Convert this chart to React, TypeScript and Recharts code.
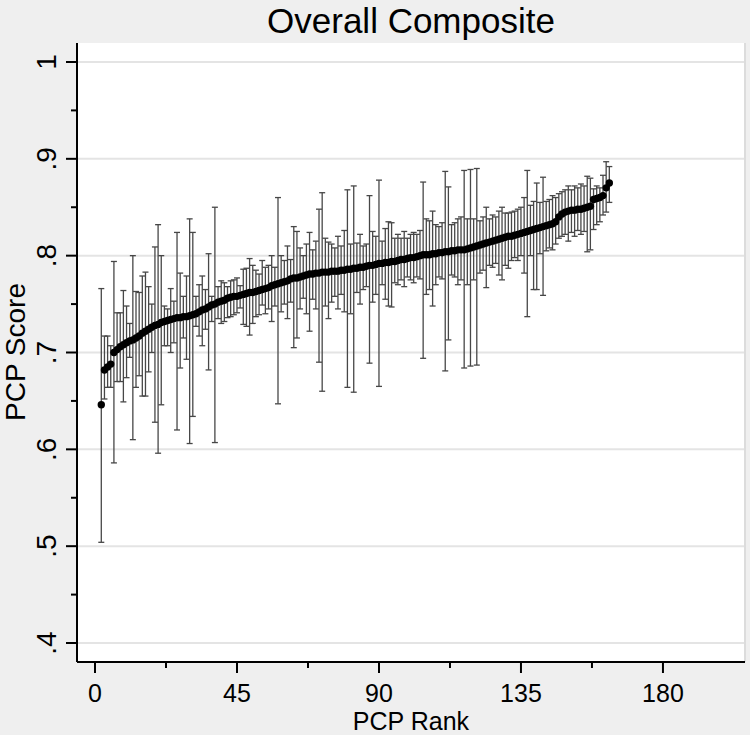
import React from "react";
import {
  CartesianGrid,
  ComposedChart,
  ErrorBar,
  ReferenceLine,
  Scatter,
  XAxis,
  YAxis,
} from "recharts";

// PCP ranks start at 2 and step by one
const firstRank = 2;

// point estimates, in rank order
const scores = [
  0.646, 0.682, 0.685, 0.688, 0.7, 0.703, 0.706, 0.708, 0.71, 0.712, 0.713, 0.715, 0.717,
  0.72, 0.722, 0.724, 0.726, 0.728, 0.729, 0.731, 0.732, 0.733, 0.734, 0.735, 0.736,
  0.736, 0.737, 0.737, 0.738, 0.739, 0.74, 0.742, 0.744, 0.745, 0.747, 0.749, 0.75, 0.752,
  0.753, 0.754, 0.756, 0.757, 0.758, 0.758, 0.759, 0.76, 0.761, 0.762, 0.762, 0.763, 0.764, 0.765,
  0.766, 0.767, 0.769, 0.77, 0.771, 0.772, 0.773, 0.774, 0.776, 0.777, 0.777, 0.778, 0.779,
  0.78, 0.781, 0.781, 0.782, 0.782, 0.783, 0.783, 0.783, 0.784, 0.784, 0.784, 0.785, 0.785, 0.786,
  0.786, 0.787, 0.787, 0.788, 0.788, 0.789, 0.79, 0.79, 0.791, 0.792, 0.792, 0.793, 0.793,
  0.794, 0.794, 0.795, 0.796, 0.796, 0.797, 0.798, 0.798, 0.799, 0.8, 0.801, 0.801, 0.801, 0.802,
  0.802, 0.803, 0.803, 0.804, 0.804, 0.805, 0.805, 0.806, 0.806, 0.806, 0.807, 0.808, 0.809,
  0.81, 0.811, 0.812, 0.813, 0.814, 0.815, 0.816, 0.817, 0.818, 0.819, 0.82, 0.82, 0.821,
  0.822, 0.823, 0.824, 0.825, 0.826, 0.827, 0.828, 0.829, 0.83, 0.831, 0.832, 0.833, 0.835,
  0.84, 0.843, 0.845, 0.846, 0.847, 0.847, 0.848, 0.848, 0.849, 0.85, 0.851, 0.858, 0.859,
  0.86, 0.862, 0.87, 0.875,
];

// lower ends of the intervals
const lower = [
  0.504, 0.652, 0.664, 0.664, 0.586, 0.67, 0.67, 0.649, 0.674, 0.695, 0.61, 0.664, 0.676,
  0.655, 0.655, 0.68, 0.7, 0.628, 0.596, 0.646, 0.707, 0.707, 0.7, 0.71, 0.62,
  0.684, 0.715, 0.693, 0.606, 0.634, 0.727, 0.717, 0.707, 0.724, 0.682, 0.732, 0.607, 0.735,
  0.73, 0.732, 0.736, 0.737, 0.739, 0.741, 0.746, 0.729, 0.727, 0.718, 0.73, 0.737, 0.739, 0.749,
  0.74, 0.745, 0.732, 0.748, 0.647, 0.742, 0.75, 0.735, 0.752, 0.705, 0.715, 0.745, 0.756,
  0.74, 0.722, 0.755, 0.745, 0.69, 0.66, 0.748, 0.735, 0.752, 0.758, 0.745, 0.76, 0.742, 0.664,
  0.74, 0.659, 0.762, 0.75, 0.765, 0.768, 0.689, 0.752, 0.76, 0.665, 0.77, 0.755, 0.748,
  0.747, 0.772, 0.77, 0.775, 0.768, 0.778, 0.775, 0.772, 0.778, 0.776, 0.694, 0.76, 0.765, 0.748,
  0.77, 0.778, 0.776, 0.681, 0.713, 0.78, 0.778, 0.77, 0.775, 0.684, 0.77, 0.686, 0.775,
  0.687, 0.782, 0.785, 0.767, 0.79, 0.788, 0.792, 0.78, 0.775, 0.79, 0.787, 0.795, 0.798,
  0.795, 0.8, 0.782, 0.737, 0.8, 0.765, 0.765, 0.802, 0.759, 0.805, 0.808, 0.806, 0.812,
  0.818, 0.82, 0.822, 0.815, 0.824, 0.82, 0.826, 0.822, 0.825, 0.804, 0.806, 0.827, 0.832,
  0.835, 0.842, 0.845, 0.855,
];

// upper ends of the intervals
const upper = [
  0.766, 0.717, 0.717, 0.707, 0.794, 0.741, 0.741, 0.764, 0.748, 0.73, 0.8, 0.763, 0.762,
  0.779, 0.783, 0.768, 0.75, 0.809, 0.832, 0.8, 0.748, 0.745, 0.766, 0.753, 0.824,
  0.782, 0.758, 0.779, 0.838, 0.824, 0.758, 0.77, 0.779, 0.765, 0.802, 0.758, 0.85, 0.768,
  0.774, 0.772, 0.768, 0.774, 0.775, 0.777, 0.769, 0.786, 0.787, 0.797, 0.79, 0.785, 0.781, 0.795,
  0.788, 0.79, 0.8, 0.788, 0.86, 0.8, 0.795, 0.81, 0.796, 0.83, 0.825, 0.808, 0.8,
  0.812, 0.824, 0.806, 0.815, 0.848, 0.865, 0.818, 0.814, 0.812, 0.808, 0.82, 0.81, 0.826, 0.868,
  0.812, 0.872, 0.813, 0.822, 0.81, 0.812, 0.862, 0.825, 0.82, 0.878, 0.815, 0.828, 0.835,
  0.834, 0.818, 0.822, 0.818, 0.825, 0.818, 0.822, 0.824, 0.822, 0.826, 0.876, 0.838, 0.836, 0.846,
  0.832, 0.83, 0.834, 0.887, 0.871, 0.832, 0.834, 0.838, 0.84, 0.888, 0.838, 0.889, 0.838,
  0.89, 0.836, 0.84, 0.85, 0.838, 0.842, 0.84, 0.846, 0.85, 0.844, 0.844, 0.845, 0.846,
  0.848, 0.85, 0.86, 0.888, 0.852, 0.856, 0.875, 0.855, 0.881, 0.856, 0.858, 0.862, 0.86,
  0.864, 0.866, 0.868, 0.872, 0.868, 0.872, 0.87, 0.874, 0.872, 0.882, 0.88, 0.869, 0.872,
  0.87, 0.883, 0.897, 0.892,
];

const yMajorTicks = [0.4, 0.5, 0.6, 0.7, 0.8, 0.9, 1];
const yTickLabels = [".4", ".5", ".6", ".7", ".8", ".9", "1"];
const yMinorTicks = [0.45, 0.55, 0.65, 0.75, 0.85, 0.95];
const xMajorTicks = [0, 45, 90, 135, 180];
const xTickLabels = ["0", "45", "90", "135", "180"];
const xMinorTicks = [22.5, 67.5, 112.5, 157.5];

const data = scores.map((score, i) => ({
  rank: firstRank + i,
  score,
  err: [score - lower[i], upper[i] - score],
}));

const W = 750;
const H = 735;
const PLOT_LEFT = 77;
const PLOT_BOTTOM = 662;
const FONT = '"Liberation Sans", Arial, Helvetica, sans-serif';

const YTick = (props: any) => {
  const { y, payload } = props;
  const idx = yMajorTicks.findIndex((t) => Math.abs(t - payload.value) < 1e-9);
  const major = idx >= 0;
  const lx = PLOT_LEFT - 21;
  return (
    <g>
      <line
        x1={PLOT_LEFT - (major ? 11 : 6)}
        x2={PLOT_LEFT}
        y1={y}
        y2={y}
        stroke="#000"
        strokeWidth={2}
      />
      {major && (
        <text
          x={lx}
          y={y}
          transform={`rotate(-90 ${lx} ${y})`}
          textAnchor="middle"
          fontSize={28}
          fontFamily={FONT}
          fill="#000"
        >
          {yTickLabels[idx]}
        </text>
      )}
    </g>
  );
};

const XTick = (props: any) => {
  const { x, payload } = props;
  const idx = xMajorTicks.findIndex((t) => Math.abs(t - payload.value) < 1e-9);
  const major = idx >= 0;
  return (
    <g>
      <line
        x1={x}
        x2={x}
        y1={PLOT_BOTTOM}
        y2={PLOT_BOTTOM + (major ? 11 : 6)}
        stroke="#000"
        strokeWidth={2}
      />
      {major && (
        <text x={x} y={702} textAnchor="middle" fontSize={25} fontFamily={FONT} fill="#000">
          {xTickLabels[idx]}
        </text>
      )}
    </g>
  );
};

const Dot = (props: any) => <circle cx={props.cx} cy={props.cy} r={3.7} fill="#000" />;

export default function App() {
  const yTicks = [...yMajorTicks, ...yMinorTicks].sort((a, b) => a - b);
  const xTicks = [...xMajorTicks, ...xMinorTicks].sort((a, b) => a - b);
  return (
    <div
      style={{
        position: "absolute",
        left: 0,
        top: 0,
        width: W,
        height: H,
        background: "#efefef",
      }}
    >
      <ComposedChart
        width={W}
        height={H}
        data={data}
        margin={{ top: 43, right: 5, bottom: 0, left: 0 }}
      >
        <CartesianGrid fill="#ffffff" horizontal={false} vertical={false} />
        <XAxis
          type="number"
          dataKey="rank"
          domain={[-5.7, 206]}
          allowDataOverflow
          ticks={xTicks}
          interval={0}
          tick={<XTick />}
          tickLine={false}
          axisLine={{ stroke: "#000", strokeWidth: 2 }}
          height={73}
        />
        <YAxis
          type="number"
          dataKey="score"
          domain={[0.3804, 1.0196]}
          allowDataOverflow
          ticks={yTicks}
          interval={0}
          tick={<YTick />}
          tickLine={false}
          axisLine={{ stroke: "#000", strokeWidth: 2 }}
          width={77}
        />
        {yMajorTicks.map((v) => (
          <ReferenceLine key={v} y={v} stroke="#e4e4e4" strokeWidth={2} />
        ))}
        <ReferenceLine x={206} stroke="#dcdcdc" strokeWidth={2} />
        <Scatter dataKey="score" shape={<Dot />} isAnimationActive={false}>
          <ErrorBar
            dataKey="err"
            direction="y"
            width={3}
            stroke="#474747"
            strokeWidth={1.3}
            isAnimationActive={false}
          />
        </Scatter>
      </ComposedChart>
      <svg
        width={W}
        height={H}
        style={{ position: "absolute", left: 0, top: 0, pointerEvents: "none" }}
      >
        <text x={411} y={33} textAnchor="middle" fontSize={35} fontFamily={FONT} fill="#000">
          Overall Composite
        </text>
        <text x={411} y={729.5} textAnchor="middle" fontSize={25} fontFamily={FONT} fill="#000">
          PCP Rank
        </text>
        <text
          x={25}
          y={352}
          transform="rotate(-90 25 352)"
          textAnchor="middle"
          fontSize={28}
          fontFamily={FONT}
          fill="#000"
        >
          PCP Score
        </text>
      </svg>
    </div>
  );
}
